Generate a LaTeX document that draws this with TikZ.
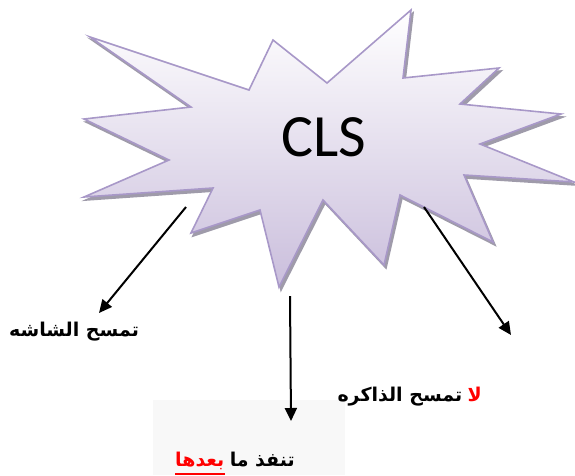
\documentclass[tikz,border=0pt]{standalone}
\usepackage{fontspec}
\usepackage{xcolor}
\usepackage{tikz}
\usetikzlibrary{arrows.meta,positioning}
\setsansfont{Carlito}
\newfontfamily\arabicfont[Script=Arabic]{DejaVu Sans}
\TeXXeTstate=1
\definecolor{burstedge}{HTML}{A898C8}
\definecolor{bursttop}{HTML}{FFFFFF}
\definecolor{burstbot}{HTML}{CABEDC}
\definecolor{burstshade}{HTML}{9F9BAA}
\definecolor{hint}{HTML}{F8F8F8}
\definecolor{alert}{HTML}{FF0000}
\tikzset{
  burst/.style={insert path={(90,37) -- (249,90) -- (273,40) -- (327,83) -- (411,10) -- (403,78)
    -- (499,68) -- (460,104) -- (561,114) -- (480,144) -- (574,182) -- (464,175)
    -- (493,242) -- (400,195) -- (384,265) -- (323,200) -- (279,287) -- (260,210)
    -- (191,233) -- (213,188) -- (84,197) -- (169,160) -- (84,119) -- (191,107) -- cycle}},
  burstfill/.style={draw=burstedge, line width=1.6pt, top color=bursttop, bottom color=burstbot},
  burstshadow/.style={fill=burstshade, draw=burstshade, line width=1.6pt},
  burstname/.style={font=\sffamily\fontsize{60}{60}\selectfont},
  arlabel/.style={font=\arabicfont\bfseries\fontsize{19}{22}\selectfont, inner sep=0pt},
  flowarr/.style={-{Triangle[length=13pt,width=12pt]}, line width=2pt}
}

\begin{document}
\begin{tikzpicture}[x=1pt, y=-1pt]
  \useasboundingbox (0,0) rectangle (575,475);
  \fill[hint] (153,400) rectangle (345,475);

  \begin{scope}[shift={(2,3)}]
    \path[burstshadow, burst];
  \end{scope}
  \path[burstfill, burst];

  \node[burstname] (cls) at (324,137) {CLS};

  \coordinate (fromleft) at (186,207);
  \coordinate (toleft) at (99,313);
  \coordinate (frommid) at (290,296);
  \coordinate (tomid) at (291,421);
  \coordinate (fromright) at (424,207);
  \coordinate (toright) at (511,335);

  \draw[flowarr] (fromleft) -- (toleft);
  \draw[flowarr] (frommid) -- (tomid);
  \draw[flowarr] (fromright) -- (toright);

  \node[arlabel, anchor=base] (wipe) at (74,336) {\beginR تمسح الشاشه\endR};
  \node[arlabel, text=alert, anchor=base east] (neg) at (482,401) {\beginR لا\endR};
  \node[arlabel, anchor=base east] (keep) at ([xshift=-5pt]neg.base west) {\beginR تمسح الذاكره\endR};
  \node[arlabel, anchor=base east] (exec) at (295,466) {\beginR تنفذ ما\endR};
  \node[arlabel, text=alert, anchor=base east] (after) at ([xshift=-5pt]exec.base west) {\beginR بعدها\endR};
  \draw[alert, line width=2.5pt] ([yshift=-8pt]after.base west) -- ([yshift=-8pt]after.base east);
\end{tikzpicture}
\end{document}
